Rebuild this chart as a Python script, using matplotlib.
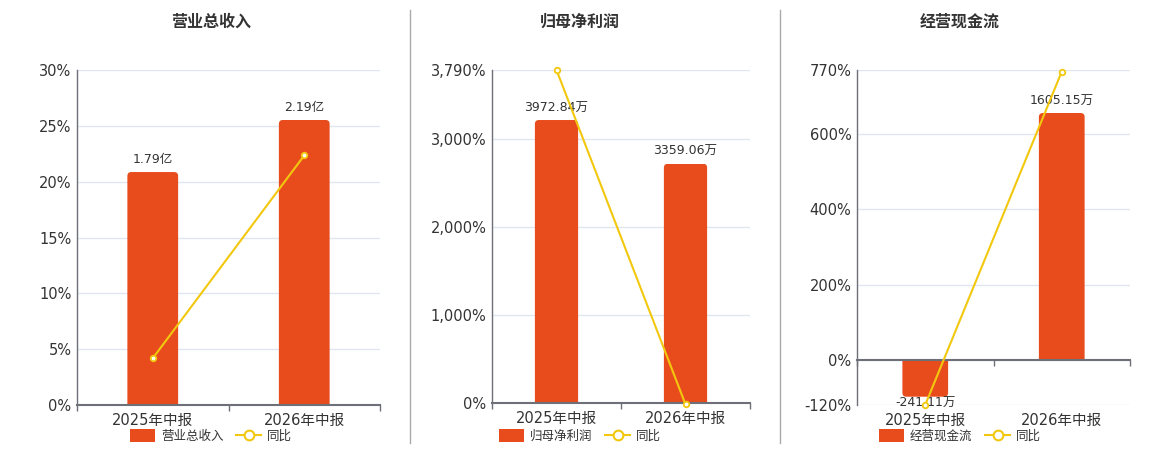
import matplotlib
matplotlib.use('Agg')
import matplotlib.pyplot as plt
from matplotlib.patches import FancyBboxPatch, Rectangle, Patch
from matplotlib.lines import Line2D
from matplotlib.ticker import FuncFormatter

plt.rcParams['font.family'] = ['DejaVu Sans', 'Noto Sans CJK SC']

# Data
categories = ['2025年中报', '2026年中报']
revenue = [1.79, 2.19]          # 亿
revenue_yoy = [4.18, 22.35]     # %
profit = [3972.84, 3359.06]     # 万
profit_yoy = [3790, -15.45]
cashflow = [-241.11, 1605.15]   # 万
cashflow_yoy = [-119.5, 765.7]

BAR = '#E84C1D'
LINE = '#F2C80F'
TXT = '#333333'
AXC = '#6E7079'
GRID = '#E0E6F1'

W, H = 1160, 450
fig = plt.figure(figsize=(W / 100, H / 100), dpi=100)

panels = [
    dict(title='营业总收入', bars=revenue, yoy=revenue_yoy, unit='亿',
         box=(77, 380, 70, 405), pct=(0, 30), ticks=[0, 5, 10, 15, 20, 25, 30],
         barlim=(0, 2.574), cx=211),
    dict(title='归母净利润', bars=profit, yoy=profit_yoy, unit='万',
         box=(492, 750, 70, 403), pct=(0, 3790), ticks=[0, 1000, 2000, 3000, 3790],
         barlim=(0, 4675), cx=580),
    dict(title='经营现金流', bars=cashflow, yoy=cashflow_yoy, unit='万',
         box=(857, 1130, 70, 405), pct=(-120, 770), ticks=[-120, 0, 200, 400, 600, 770],
         barlim=(-295, 1885), cx=960),
]

x = list(range(len(categories)))
bw = 0.335

for p in panels:
    l, r, t, b = p['box']
    rect = [l / W, (H - b) / H, (r - l) / W, (b - t) / H]
    ax = fig.add_axes(rect)
    ax.set_xlim(-0.5, 1.5)
    ax.set_ylim(*p['pct'])
    ax.set_yticks(p['ticks'])
    ax.yaxis.set_major_formatter(FuncFormatter(lambda v, pos: f'{v:,.0f}%'))
    ax.tick_params(axis='y', length=0, pad=4, labelsize=10.5, labelcolor=TXT)
    # category labels on major ticks, boundary marks on minor ticks
    ax.set_xticks(x)
    ax.set_xticklabels(categories)
    ax.set_xticks([-0.5, 0.5, 1.5], minor=True)
    ax.tick_params(axis='x', which='both', length=0, pad=6, labelsize=10.5, labelcolor=TXT)
    ax.grid(axis='y', color=GRID, lw=1)
    ax.set_axisbelow(True)
    for s in ['top', 'right', 'bottom']:
        ax.spines[s].set_visible(False)
    ax.spines['left'].set_color(AXC)
    ax.spines['left'].set_linewidth(1)

    # bars layer
    axb = ax.twinx()
    axb.set_zorder(ax.get_zorder() + 1)
    axb.set_ylim(*p['barlim'])
    axb.axis('off')
    bars = axb.bar(x, p['bars'], width=bw, color=BAR)
    xpx = (r - l) / 2.0
    ypx = (b - t) / (p['barlim'][1] - p['barlim'][0])
    rad = 4 / xpx
    aspect = xpx / ypx
    ry = rad * aspect
    for bar, v in zip(bars, p['bars']):
        bb = bar.get_bbox()
        bar.set_visible(False)
        if v >= 0:
            y0, hgt = -ry, v + ry
        else:
            y0, hgt = v, -v + ry
        rounded = FancyBboxPatch((bb.x0, y0), bb.width, hgt,
                                 boxstyle=f'round,pad=0,rounding_size={rad}',
                                 mutation_aspect=aspect, fc=BAR, ec='none')
        axb.add_patch(rounded)
        clip = Rectangle((bb.x0 - 0.1, min(0, v)), bb.width + 0.2, abs(v),
                         transform=axb.transData, fc='none', ec='none')
        rounded.set_clip_path(clip)
        if v >= 0:
            axb.annotate(f'{v}{p["unit"]}', (bar.get_x() + bw / 2, v), xytext=(0, 4),
                         textcoords='offset points', ha='center', va='bottom',
                         fontsize=9, color=TXT)
        else:
            axb.annotate(f'{v}{p["unit"]}', (bar.get_x() + bw / 2, v), xytext=(0, 0),
                         textcoords='offset points', ha='center', va='top',
                         fontsize=9, color=TXT)

    # line layer (also carries the zero axis line and its tick marks)
    axl = ax.twinx()
    axl.set_zorder(ax.get_zorder() + 2)
    axl.set_ylim(*p['pct'])
    axl.set_yticks([])
    axl.xaxis.set_visible(True)
    axl.tick_params(axis='x', which='major', length=0, labelbottom=False)
    axl.tick_params(axis='x', which='minor', length=4, width=1, color=AXC,
                    labelbottom=False, direction='out')
    for s in ['top', 'right', 'left']:
        axl.spines[s].set_visible(False)
    axl.spines['bottom'].set_position(('data', 0))
    axl.spines['bottom'].set_color(AXC)
    axl.spines['bottom'].set_linewidth(1.5)
    axl.plot(x, p['yoy'], color=LINE, lw=1.5, marker='o', ms=4, mfc='white',
             mec=LINE, mew=1.3, clip_on=False, zorder=3)

    fig.text(p['cx'] / W, 1 - 22 / H, p['title'], ha='center', va='center',
             fontsize=11.5, fontweight='bold', color=TXT)
    handles = [Patch(fc=BAR, ec='none'),
               Line2D([], [], color=LINE, lw=1.5, marker='o', ms=7, mfc='white',
                      mec=LINE, mew=1.5)]
    fig.legend(handles, [p['title'], '同比'], loc='center',
               bbox_to_anchor=(p['cx'] / W, 1 - 436 / H), ncol=2, frameon=False,
               fontsize=9, handlelength=2.0, handleheight=1.2, handletextpad=0.5,
               columnspacing=1.0, labelcolor=TXT, borderpad=0)

# panel separators
for sx in [410, 780]:
    fig.add_artist(Line2D([sx / W, sx / W], [1 - 10 / H, 1 - 443 / H],
                          color='#AAAAAA', lw=1))

fig.savefig('out.png', dpi=100)
